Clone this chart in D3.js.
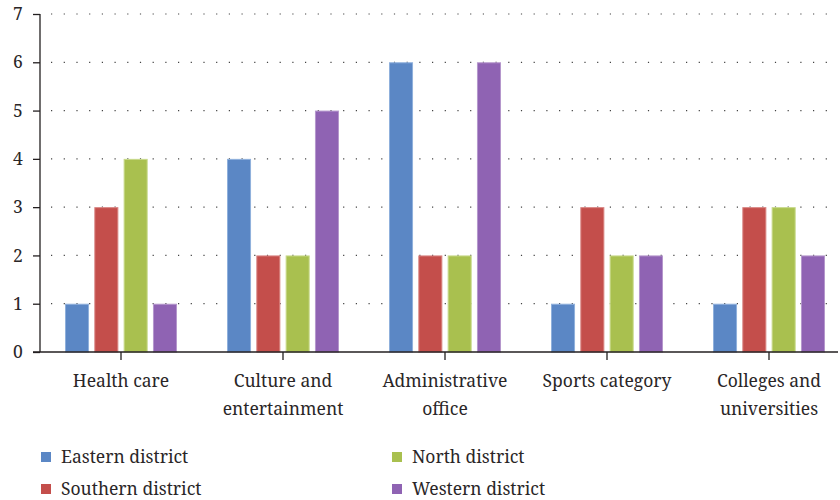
<!DOCTYPE html>
<html>
<head>
<meta charset="utf-8">
<script src="https://cdn.jsdelivr.net/npm/d3@7"></script>
<style>
  html, body { margin: 0; padding: 0; background: #fff; }
  svg { display: block; }
  svg text { font-family: "Noto Serif", "Liberation Serif", serif; fill: #2a2627; }
</style>
</head>
<body>
<svg id="chart" width="840" height="500"></svg>
<script>
// Facility counts per district, grouped by category
const categories = [
  ["Health care"],
  ["Culture and", "entertainment"],
  ["Administrative", "office"],
  ["Sports category"],
  ["Colleges and", "universities"]
];
const seriesNames = ["Eastern district", "Southern district", "North district", "Western district"];
const eastern  = [1, 4, 6, 1, 1];
const southern = [3, 2, 2, 3, 3];
const north    = [4, 2, 2, 2, 3];
const western  = [1, 5, 6, 2, 2];
const yTicks = [0, 1, 2, 3, 4, 5, 6, 7];
const colors = ["#5b87c5", "#c44e4b", "#a9c04f", "#8f63b3"];
const strokes = ["#8fb0dc", "#d98583", "#c8d98a", "#b597cc"];

const seriesValues = [eastern, southern, north, western];
const svg = d3.select("#chart");
const FONT = 17.5;

const x0 = d3.scaleBand().domain(d3.range(categories.length)).range([40, 850]).paddingInner(0).paddingOuter(0);
const x1 = d3.scaleBand().domain(d3.range(seriesNames.length)).range([25, 137]).paddingInner(0.18).paddingOuter(0);
const y = d3.scaleLinear().domain([0, 7]).range([352, 14]);

// dotted horizontal gridlines
svg.append("g").selectAll("line").data(yTicks.slice(1)).join("line")
  .attr("x1", 51).attr("x2", 838)
  .attr("y1", d => y(d)).attr("y2", d => y(d))
  .attr("stroke", "#444").attr("stroke-width", 1.2)
  .attr("stroke-dasharray", "1.2,11.5");

// bars
const groups = svg.append("g").selectAll("g").data(categories).join("g")
  .attr("transform", (d, i) => `translate(${x0(i)},0)`);
groups.selectAll("rect").data((d, i) => seriesValues.map((s, k) => ({k, v: s[i]}))).join("rect")
  .attr("x", d => x1(d.k) + 0.5)
  .attr("y", d => y(d.v) + 0.5)
  .attr("width", x1.bandwidth() - 1)
  .attr("height", d => y(0) - y(d.v) - 0.5)
  .attr("fill", d => colors[d.k])
  .attr("stroke", d => strokes[d.k])
  .attr("stroke-width", 1);

// y axis
const yAxis = svg.append("g").attr("transform", "translate(40,0)")
  .call(d3.axisLeft(y).tickValues(yTicks).tickSize(7).tickPadding(12).tickFormat(d3.format("d")));
yAxis.attr("font-family", null).attr("font-size", null);
yAxis.select(".domain").attr("stroke", "#231f20").attr("stroke-width", 1.3).attr("d", `M0,${y(7)}V${y(0)}`);
yAxis.selectAll(".tick line").attr("stroke", "#231f20").attr("stroke-width", 1.3);
yAxis.selectAll("text").attr("font-size", FONT).attr("text-anchor", "middle").attr("x", -22).attr("fill", null);

// x axis
const xAxis = svg.append("g").attr("transform", `translate(0,${y(0)})`)
  .call(d3.axisBottom(x0).tickSize(8).tickFormat(""));
xAxis.attr("font-family", null).attr("font-size", null);
xAxis.select(".domain").attr("stroke", "#231f20").attr("stroke-width", 1.3).attr("d", "M33,0H838");
xAxis.selectAll(".tick line").attr("stroke", "#231f20").attr("stroke-width", 1.3);
xAxis.selectAll(".tick").each(function(d, i) {
  const t = d3.select(this).append("text")
    .attr("text-anchor", "middle").attr("font-size", FONT);
  categories[i].forEach((line, j) => {
    t.append("tspan").attr("x", 0).attr("y", 35 + j * 28).text(line);
  });
});

// legend
const legendPos = [[41, 457], [41, 489], [392, 457], [392, 489]];
const legend = svg.append("g").selectAll("g").data(seriesNames).join("g")
  .attr("transform", (d, i) => `translate(${legendPos[i][0]},${legendPos[i][1]})`);
legend.append("rect").attr("x", 0).attr("y", -5).attr("width", 10).attr("height", 10)
  .attr("fill", (d, i) => colors[i]);
legend.append("text").attr("x", 20).attr("y", 5.5).attr("font-size", FONT).text(d => d);
</script>
</body>
</html>
